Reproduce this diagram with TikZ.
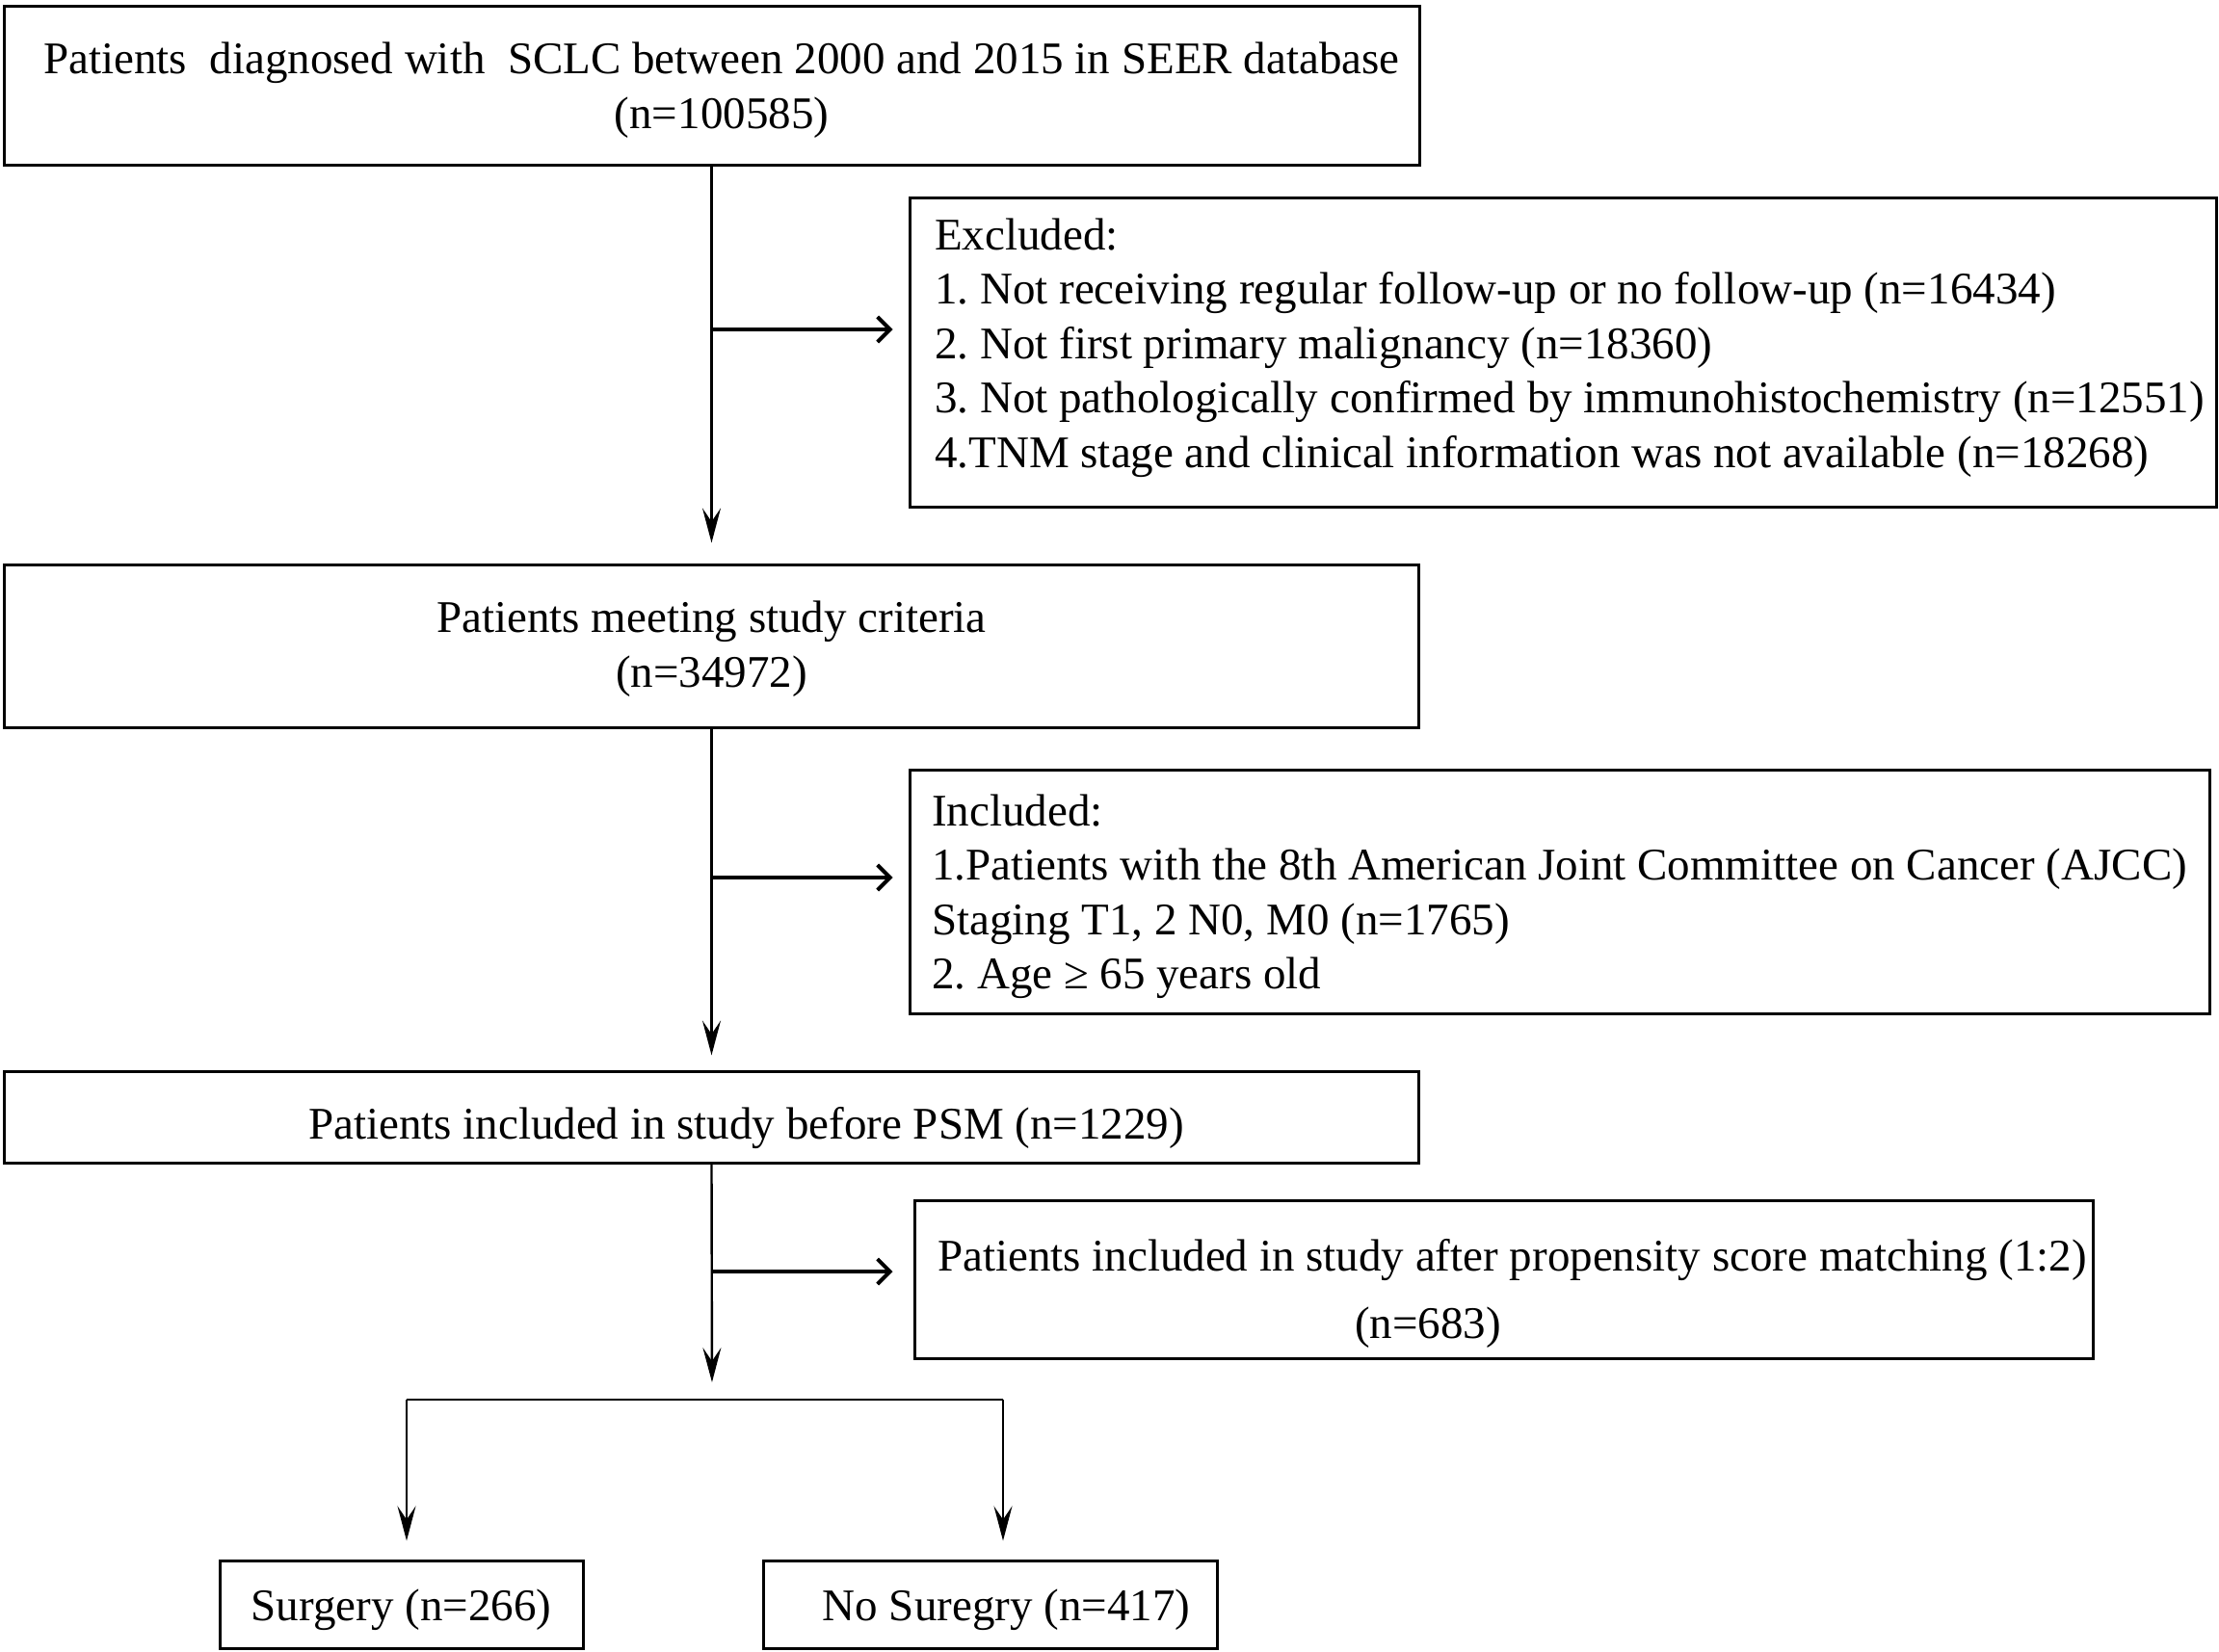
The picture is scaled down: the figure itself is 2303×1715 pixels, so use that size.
\documentclass[tikz,border=0pt]{standalone}
\usepackage{fontspec}
\setmainfont{Liberation Serif}
\usepackage{tikz}
\usetikzlibrary{shapes,arrows.meta}
\usetikzlibrary{positioning}
\frenchspacing
\tikzstyle{block} = [draw, rectangle, line width=3pt, inner sep=0pt,
    font=\fontsize{47pt}{56.5pt}\selectfont]
\tikzstyle{vline} = [line width=2.4pt, -{Stealth[length=36pt,width=19pt,inset=14pt]}]
\tikzstyle{side} = [line width=4pt, -{Straight Barb[length=13pt,width=26pt,line width=4pt]}]
\newcommand{\lift}[1]{\rule{0pt}{#1}}

\begin{document}
\begin{tikzpicture}[x=1pt,y=1pt]
  \useasboundingbox (0,0) rectangle (2303,-1715);
  \node [block, align=center, minimum width=1469pt, minimum height=165pt] (start) at (738.5,-89.5)
    {\lift{41pt}\hspace*{21pt}Patients\ \ diagnosed with\ \ SCLC between 2000 and 2015 in SEER database\\
     \hspace*{21pt}(n=100585)};
  \node [block, align=center, minimum width=1468pt, minimum height=169pt, below of=start, node distance=581pt] (crit)
    {\lift{39pt}Patients meeting study criteria\\(n=34972)};
  \node [block, minimum width=1468pt, minimum height=95pt, below of=crit, node distance=489pt] (before)
    {\lift{57pt}\hspace*{72pt}Patients included in study before PSM (n=1229)};
  \node [block, align=left, minimum width=1356pt, minimum height=320pt] (excl) at (1622,-366)
    {\hspace*{14pt}Excluded:\\
     \hspace*{14pt}1. Not receiving regular follow-up or no follow-up (n=16434)\\
     \hspace*{14pt}2. Not first primary malignancy (n=18360)\\
     \hspace*{14pt}3. Not pathologically confirmed by immunohistochemistry (n=12551)\\
     \hspace*{14pt}4.TNM stage and clinical information was not available (n=18268)\\[-36pt]\mbox{}};
  \node [block, align=left, minimum width=1349pt, minimum height=253pt] (incl) at (1618.5,-925.5)
    {\lift{43pt}Included:\\
     1.Patients with the 8th American Joint Committee on Cancer (AJCC)\\
     Staging T1, 2 N0, M0 (n=1765)\\
     2. Age ≥ 65 years old};
  \node [block, align=left, minimum width=1223pt, minimum height=164pt] (psm) at (1560.5,-1328)
    {\lift{63pt}\hspace*{18pt}Patients included in study after propensity score matching (1:2)\\[14pt]
     \hspace*{451pt}(n=683)};
  \node [block, minimum width=377pt, minimum height=91pt] (surg) at (416.5,-1665.5) {\lift{45pt}Surgery (n=266)};
  \node [block, minimum width=471pt, minimum height=91pt, right of=surg, node distance=611pt] (nosurg)
    {\lift{45pt}\hspace*{34pt}No Suregry (n=417)};

  % junctions on the main line
  \coordinate (j1) at (739,-342);
  \coordinate (j2) at (739,-911);
  \coordinate (j3) at (739,-1320);
  \coordinate (split) at (739,-1453);
  \coordinate (bl) at (422,-1453);
  \coordinate (br) at (1041,-1453);

  \draw [vline, shorten >=21pt] (start.south) -- (crit.north);
  \draw [vline, shorten >=15pt] (crit.south) -- (before.north);
  \draw [vline, shorten >=18pt] (before.south) -- (split);
  \draw [side, shorten >=16pt] (j1) -- (j1 -| excl.west);
  \draw [side, shorten >=16pt] (j2) -- (j2 -| incl.west);
  \draw [side, shorten >=21pt] (j3) -- (j3 -| psm.west);
  \draw [line width=2.4pt] (bl) -- (br);
  \draw [vline, shorten >=19pt] (bl) -- (bl |- surg.north);
  \draw [vline, shorten >=19pt] (br) -- (br |- nosurg.north);
\end{tikzpicture}
\end{document}
